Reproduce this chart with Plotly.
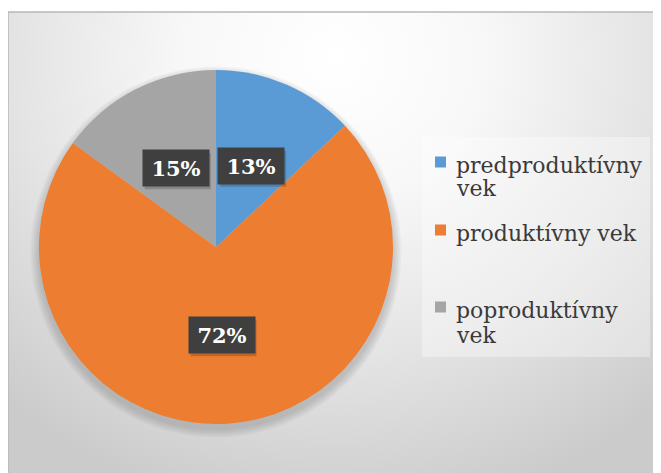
import math
import plotly.graph_objects as go

# ---- data ----
categories = ["predproduktívny<br>vek", "produktívny vek", "poproduktívny<br>vek"]
values = [13, 72, 15]
colors = ["#5B9BD5", "#ED7D31", "#A5A5A5"]

# figure size (page has an 8px body margin)
W, H = 653, 465
OFF = 8


def px(X):  # page x -> paper x
    return (X - OFF) / W


def py(Y):  # page y -> paper y
    return 1 - (Y - OFF) / H


# chart area top-left (page pixels)
CX0, CY0 = 8, 12
# pie geometry (page pixels)
PCX, PCY, PR = 216, 247, 177

fig = go.Figure()

# gradient background via a filled scatter on hidden axes
fig.add_trace(go.Scatter(
    x=[-0.25, 1.25, 1.25, -0.25, -0.25],
    y=[-0.1, -0.1, 1.9, 1.9, -0.1],
    mode="lines", line=dict(width=0), fill="toself",
    fillgradient=dict(type="radial",
                      colorscale=[[0, "#ffffff"], [0.3, "#f8f8f8"], [0.65, "#e4e4e4"], [1, "#cbcbcb"]]),
    hoverinfo="skip", showlegend=False,
))

# soft shadow under the pie (layered translucent discs)
ax_w = W - (CX0 - OFF)
ax_h = H - (CY0 - OFF)
for k in range(6):
    rr = PR + 1 + k * 1.5
    xs, ys = [], []
    for i in range(121):
        t = 2 * math.pi * i / 120
        X = PCX + rr * math.cos(t)
        Y = PCY + 5 + rr * math.sin(t)
        xs.append((X - CX0) / ax_w)
        ys.append(1 - (Y - CY0) / ax_h)
    fig.add_trace(go.Scatter(x=xs, y=ys, mode="lines", line=dict(width=0),
                             fill="toself", fillcolor="rgba(90,90,90,0.05)",
                             hoverinfo="skip", showlegend=False))

fig.add_trace(go.Pie(
    labels=categories, values=values, sort=False, direction="clockwise", rotation=0,
    marker=dict(colors=colors, line=dict(width=0)),
    textinfo="none", hoverinfo="label+percent", showlegend=False,
    domain=dict(x=[px(PCX - PR), px(PCX + PR)], y=[py(PCY + PR), py(PCY - PR)]),
))

annotations = []
shapes = []

# percentage labels in dark boxes, placed at half radius on slice bisectors
total = sum(values)
cum = 0
for v in values:
    mid = (cum + v / 2) / total * 2 * math.pi
    cum += v
    X = PCX + 0.5 * PR * math.sin(mid)
    Y = PCY - 0.5 * PR * math.cos(mid)
    # box shadow
    shapes.append(dict(type="rect", xref="paper", yref="paper",
                       x0=px(X - 31), x1=px(X + 35), y0=py(Y + 21), y1=py(Y - 15),
                       fillcolor="rgba(0,0,0,0.18)", line=dict(width=0), layer="above"))
    annotations.append(dict(
        x=px(X), y=py(Y), xref="paper", yref="paper",
        text="<b>%d%%</b>" % round(v / total * 100), showarrow=False,
        font=dict(family="DejaVu Serif", size=21, color="white"),
        bgcolor="#3f3f3f", width=62, height=32, borderpad=2,
        xanchor="center", yanchor="middle",
    ))

# legend (drawn to match the reference layout)
LEG_X0, LEG_X1, LEG_Y0, LEG_Y1 = 422, 650, 137, 357
shapes.append(dict(type="rect", xref="paper", yref="paper",
                   x0=px(LEG_X0), x1=px(LEG_X1), y0=py(LEG_Y1), y1=py(LEG_Y0),
                   fillcolor="rgba(255,255,255,0.35)", line=dict(width=0), layer="above"))
baselines = [[172, 196], [240], [317, 342]]
for cat, col, bl in zip(categories, colors, baselines):
    lines = cat.split("<br>")
    ymid = bl[0] - 10
    shapes.append(dict(type="rect", xref="paper", yref="paper",
                       x0=px(435), x1=px(446), y0=py(ymid + 5.5), y1=py(ymid - 5.5),
                       fillcolor=col, line=dict(width=0), layer="above"))
    for line, b in zip(lines, bl):
        annotations.append(dict(
            x=px(454), y=py(b - 7), xref="paper", yref="paper",
            text=line, showarrow=False, xanchor="left", yanchor="middle",
            font=dict(family="DejaVu Serif", size=22, color="#3a3a3a"),
        ))

# chart area border
shapes.append(dict(type="rect", xref="paper", yref="paper",
                   x0=px(CX0), x1=1.01, y0=-0.01, y1=py(CY0),
                   line=dict(color="#b8b8b8", width=1.5), layer="above"))

fig.update_layout(
    width=W, height=H,
    margin=dict(l=0, r=0, t=0, b=0),
    paper_bgcolor="white", plot_bgcolor="rgba(0,0,0,0)",
    xaxis=dict(domain=[px(CX0), 1], range=[0, 1], visible=False, fixedrange=True),
    yaxis=dict(domain=[0, py(CY0)], range=[0, 1], visible=False, fixedrange=True),
    annotations=annotations,
    shapes=shapes,
    showlegend=False,
)

fig.write_html("out.html")
